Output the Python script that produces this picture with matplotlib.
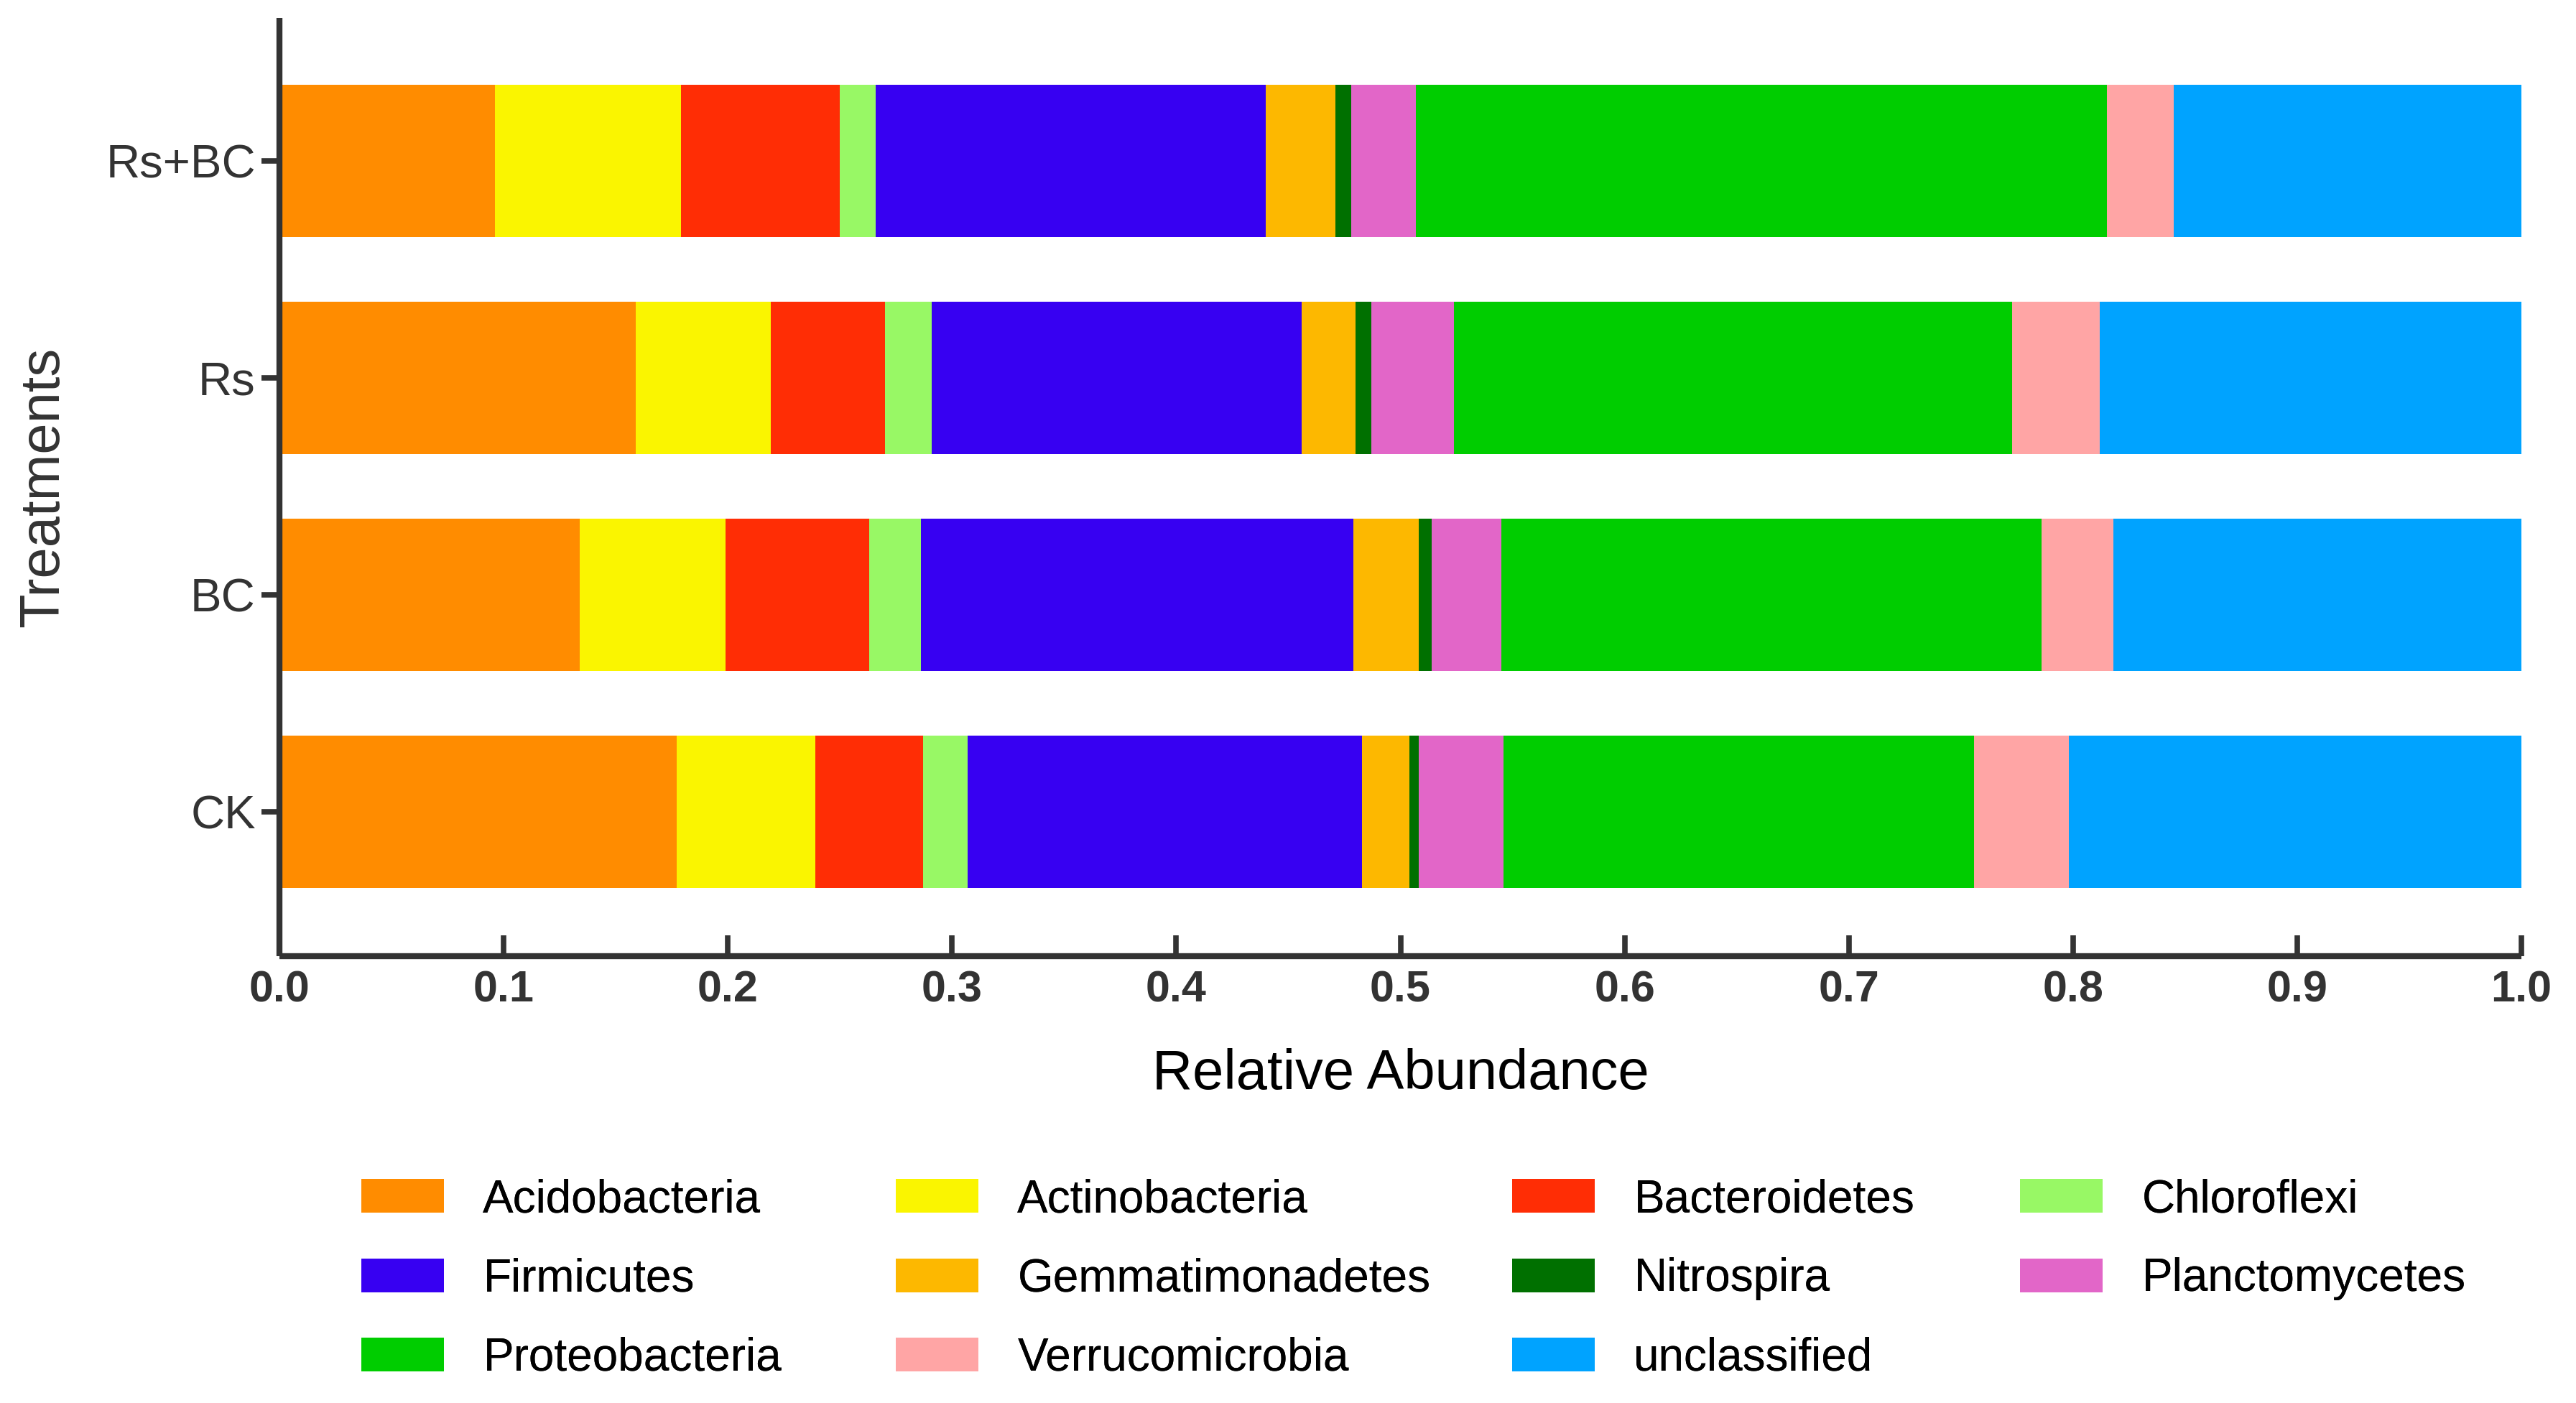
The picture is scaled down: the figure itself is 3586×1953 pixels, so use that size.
import matplotlib
matplotlib.use('Agg')
import matplotlib.pyplot as plt
from matplotlib.patches import Patch

plt.rcParams['font.family'] = ['Liberation Sans', 'DejaVu Sans']

# treatments, bottom to top
treatments = ['CK', 'BC', 'Rs', 'Rs+BC']

# relative abundance of each phylum per treatment
acidobacteria = [0.177, 0.134, 0.159, 0.096]
actinobacteria = [0.062, 0.065, 0.060, 0.083]
bacteroidetes = [0.048, 0.064, 0.051, 0.071]
chloroflexi = [0.020, 0.023, 0.021, 0.016]
firmicutes = [0.176, 0.193, 0.165, 0.174]
gemmatimonadetes = [0.021, 0.029, 0.024, 0.031]
nitrospira = [0.004, 0.006, 0.007, 0.007]
planctomycetes = [0.038, 0.031, 0.037, 0.029]
proteobacteria = [0.210, 0.241, 0.249, 0.308]
verrucomicrobia = [0.042, 0.032, 0.039, 0.030]
unclassified = [0.202, 0.182, 0.188, 0.155]

phyla = ['Acidobacteria', 'Actinobacteria', 'Bacteroidetes', 'Chloroflexi',
         'Firmicutes', 'Gemmatimonadetes', 'Nitrospira', 'Planctomycetes',
         'Proteobacteria', 'Verrucomicrobia', 'unclassified']
values = [acidobacteria, actinobacteria, bacteroidetes, chloroflexi,
          firmicutes, gemmatimonadetes, nitrospira, planctomycetes,
          proteobacteria, verrucomicrobia, unclassified]
colors = ['#FF8C00', '#FAF500', '#FF2D05', '#98F865',
          '#3700F2', '#FDB800', '#007000', '#E266C8',
          '#00CD00', '#FFA5A5', '#00A3FF']

dark = '#333333'

fig = plt.figure(figsize=(35.87, 19.53), dpi=100)
ax = fig.add_axes([0.1085, 0.3185, 0.870, 0.6687])

y = list(range(len(treatments)))
left = [0.0] * len(treatments)
for name, vals, col in zip(phyla, values, colors):
    ax.barh(y, vals, left=left, height=0.7, color=col, linewidth=0, label=name)
    left = [l + v for l, v in zip(left, vals)]

ax.set_xlim(0, 1.0)
ax.set_ylim(-0.666, 3.659)
ax.set_xticks([i / 10 for i in range(11)])
ax.set_xticklabels(['%.1f' % (i / 10) for i in range(11)],
                   fontweight='bold', fontsize=44, color=dark)
ax.set_yticks(y)
ax.set_yticklabels(treatments, fontsize=47, color=dark)

for s in ['top', 'right']:
    ax.spines[s].set_visible(False)
for s in ['left', 'bottom']:
    ax.spines[s].set_linewidth(6)
    ax.spines[s].set_color(dark)
    ax.spines[s].set_capstyle('butt')

ax.tick_params(axis='x', direction='in', length=21, width=5.5, color=dark, pad=14)
ax.tick_params(axis='y', direction='out', length=18, width=5.5, color=dark, pad=6)

ax.set_xlabel('Relative Abundance', fontsize=56, color='black', labelpad=37)
ax.set_ylabel('Treatments', fontsize=56, color=dark, labelpad=36)

# legend laid out row by row in four columns
col_x = [503, 1247, 2105, 2812]
top_y = 1 - 1640 / 1953
for c in range(4):
    idx = list(range(c, len(phyla), 4))
    handles = [Patch(facecolor=colors[i], edgecolor='none') for i in idx]
    labels = [phyla[i] for i in idx]
    leg = fig.legend(handles, labels, loc='upper left',
                     bbox_to_anchor=(col_x[c] / 3587, top_y),
                     frameon=False, fontsize=46, borderpad=0, borderaxespad=0,
                     handlelength=1.8, handleheight=0.75, handletextpad=0.85,
                     labelspacing=0.79)
    fig.add_artist(leg)

fig.savefig('out.png', dpi=100)
